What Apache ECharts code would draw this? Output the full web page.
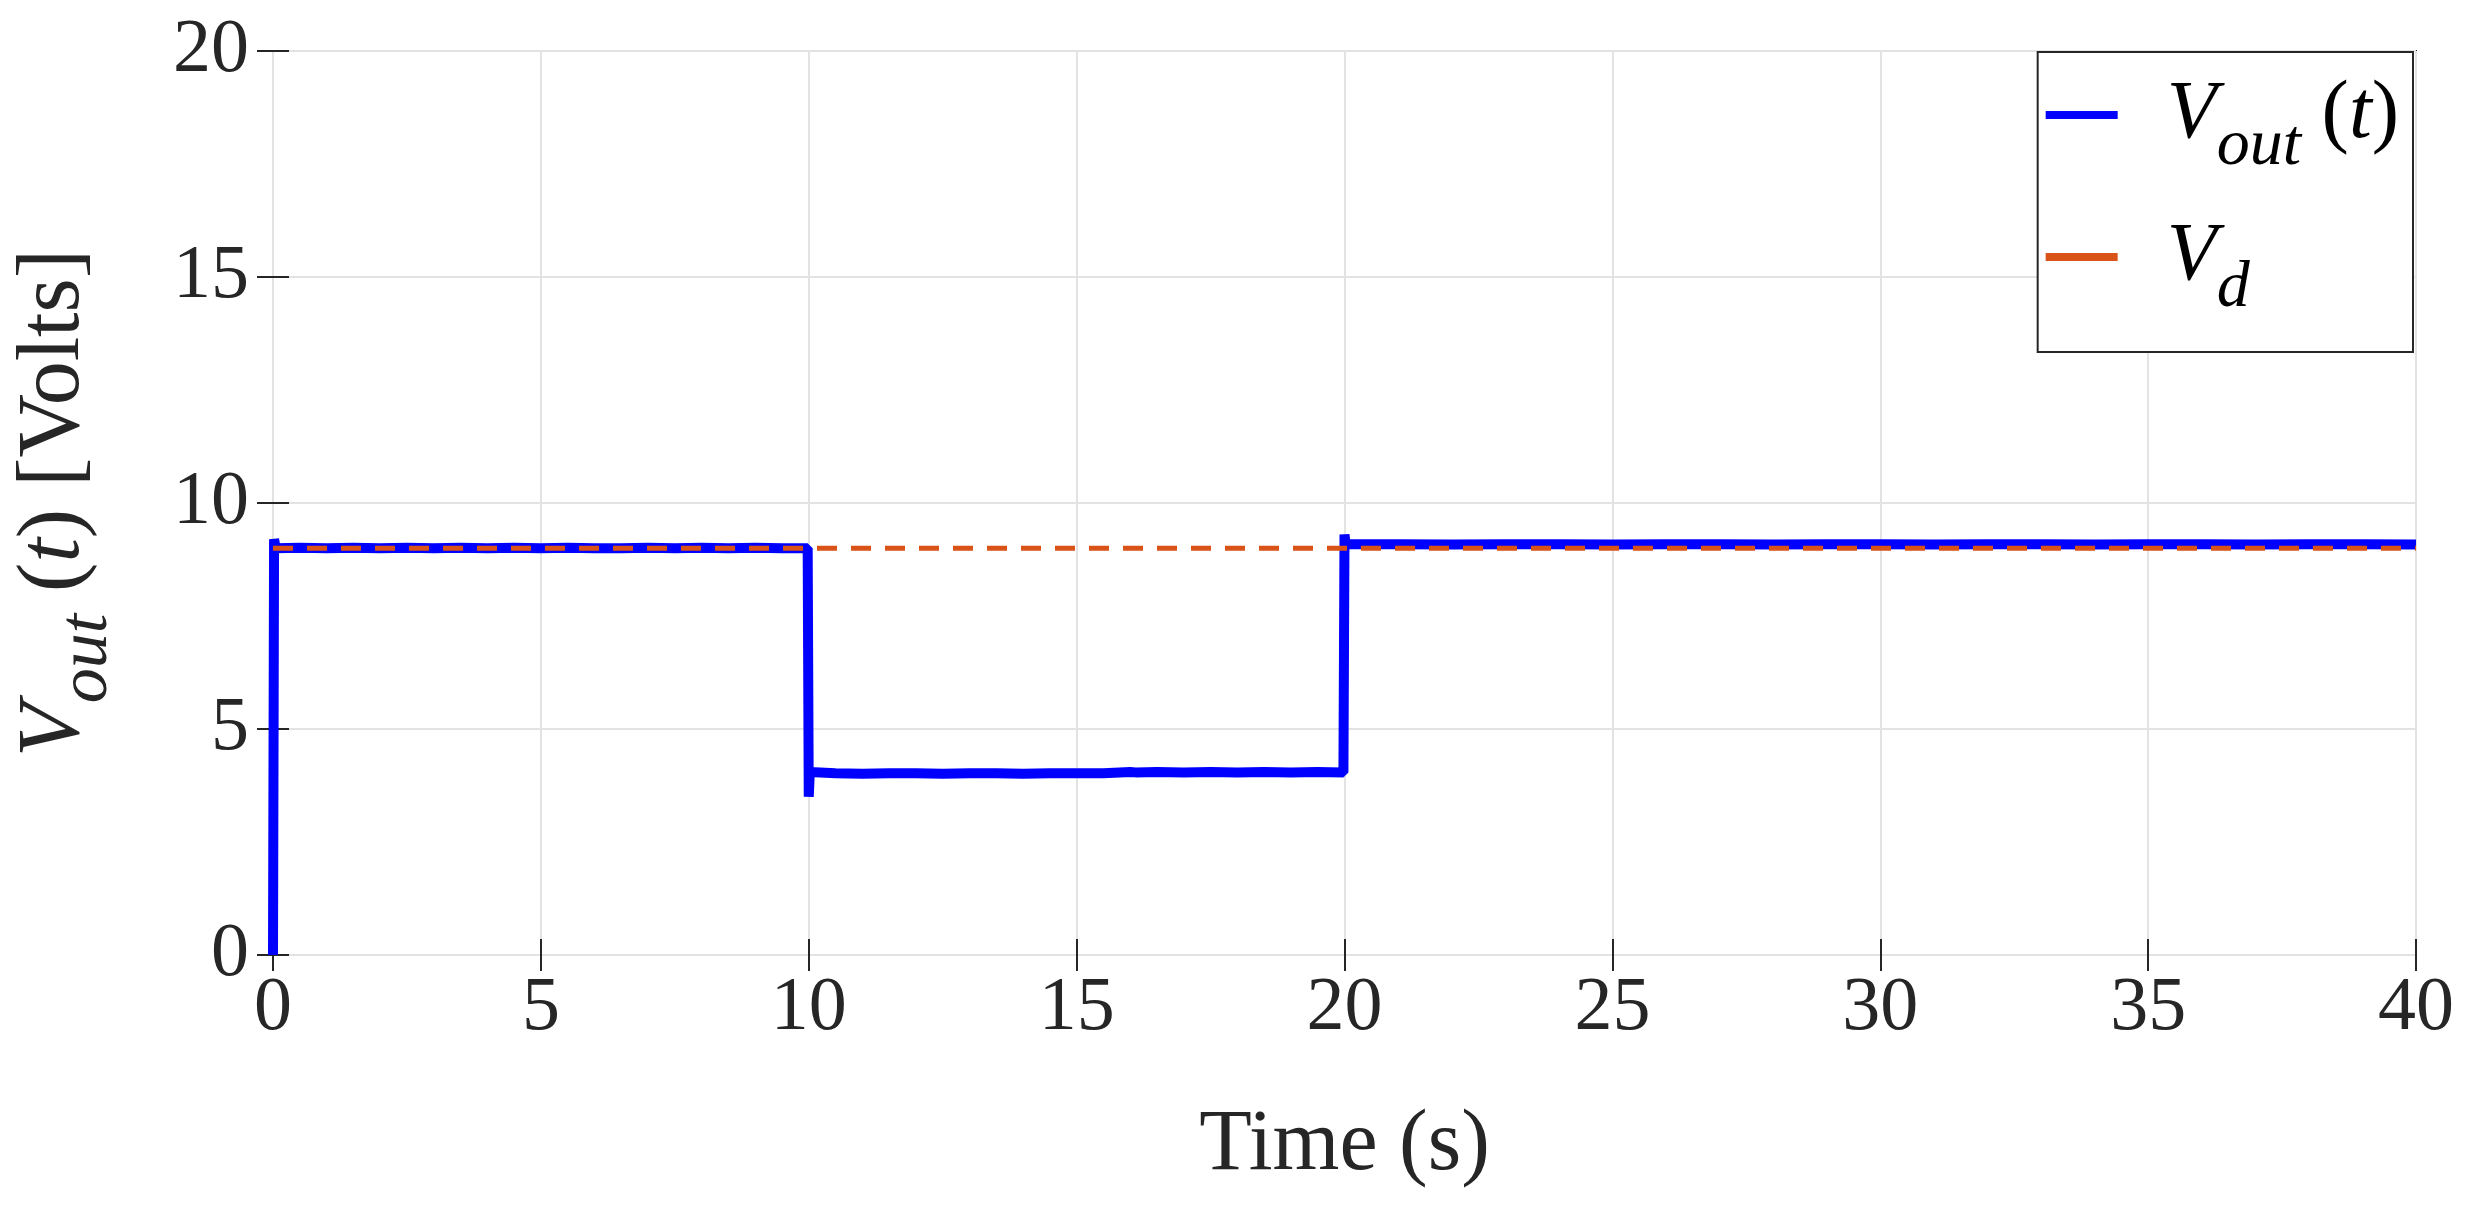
<!DOCTYPE html>
<html><head><meta charset="utf-8">
<script src="https://cdn.jsdelivr.net/npm/echarts@6/dist/echarts.min.js"></script>
<style>html,body{margin:0;padding:0;background:#fff}#c{width:2479px;height:1210px}</style>
</head><body><div id="c"></div>
<script>
const timeVout = [0,0.02,0.05,0.5,1,1.5,2,2.5,3,3.5,4,4.5,5,5.5,6,6.5,7,7.5,8,8.5,9,9.5,9.98,10.0,10.02,10.05,10.5,11,11.5,12,12.5,13,13.5,14,14.5,15,15.5,16,16.1,16.5,17,17.5,18,18.5,19,19.5,19.98,20.0,20.02,20.1,21,22,23,24,25,26,27,28,29,30,31,32,33,34,35,36,37,38,39,40];
const vout = [0,9.2,9.0,9.01,9.0,9.01,9.0,9.01,9.0,9.01,9.0,9.01,9.0,9.01,9.0,9.0,9.01,9.0,9.01,9.0,9.01,9.0,9.0,3.5,4.05,4.02,4.02,4.01,4.02,4.02,4.01,4.02,4.02,4.01,4.02,4.02,4.02,4.05,4.04,4.05,4.04,4.05,4.04,4.05,4.04,4.05,4.04,9.3,9.1,9.09,9.09,9.08,9.09,9.09,9.08,9.09,9.09,9.08,9.09,9.09,9.08,9.09,9.09,9.08,9.09,9.09,9.08,9.09,9.09,9.08];
const timeVd = [0,40];
const vd = [9,9];
const xTicks = [0,5,10,15,20,25,30,35,40];
const yTicks = [0,5,10,15,20];

const chart = echarts.init(document.getElementById('c'));
const serif = 'Liberation Serif';
const tickCfg = {show:true,inside:true,length:16,lineStyle:{color:'#262626',width:2}};
chart.setOption({
  animation:false,
  grid:{left:273,right:63,top:51,bottom:255,show:true,borderColor:'#262626',borderWidth:2,backgroundColor:'#fff'},
  legend:{
    right:66,top:52,orient:'vertical',itemWidth:72,itemHeight:8,itemGap:36,
    padding:[22,14,30,8],borderColor:'#262626',borderWidth:2,backgroundColor:'#fff',
    data:[{name:'Vout',icon:'rect'},{name:'Vd',icon:'rect'}],
    formatter:function(n){return n==='Vout'?'{v|V}{s|out}{n| (}{i|t}{n|)}':'{v|V}{s|d}';},
    textStyle:{rich:{
      v:{fontFamily:serif,fontStyle:'italic',fontSize:82,color:'#000',padding:[0,0,0,44]},
      s:{fontFamily:serif,fontStyle:'italic',fontSize:66,color:'#000',verticalAlign:'top',padding:[64,0,0,0]},
      n:{fontFamily:serif,fontSize:82,color:'#000'},
      i:{fontFamily:serif,fontStyle:'italic',fontSize:82,color:'#000'}
    }}
  },
  xAxis:[{type:'value',min:0,max:40,interval:5,
    name:'Time (s)',nameLocation:'middle',nameGap:148,
    nameTextStyle:{fontFamily:serif,fontSize:86,color:'#262626'},
    axisLine:{show:false},axisTick:tickCfg,
    axisLabel:{fontFamily:serif,fontSize:76,color:'#262626',margin:16,
      formatter:v=>xTicks.includes(v)?String(v):''},
    splitLine:{show:true,lineStyle:{color:'#e3e3e3',width:2}}
  },{type:'value',position:'top',min:0,max:40,interval:5,axisLine:{show:false},axisTick:tickCfg,axisLabel:{show:false},splitLine:{show:false}}],
  yAxis:[{type:'value',min:0,max:20,interval:5,
    name:'{v|V}{s|out}{n| (}{i|t}{n|) [Volts]}',nameLocation:'middle',nameGap:150,nameRotate:90,
    nameTextStyle:{rich:{
      v:{fontFamily:serif,fontStyle:'italic',fontSize:88,color:'#262626'},
      s:{fontFamily:serif,fontStyle:'italic',fontSize:70,color:'#262626',verticalAlign:'top',padding:[66,0,0,0]},
      n:{fontFamily:serif,fontSize:88,color:'#262626'},
      i:{fontFamily:serif,fontStyle:'italic',fontSize:88,color:'#262626'}
    }},
    axisLine:{show:false},axisTick:tickCfg,
    axisLabel:{fontFamily:serif,fontSize:76,color:'#262626',margin:24,
      formatter:v=>yTicks.includes(v)?String(v):''},
    splitLine:{show:true,lineStyle:{color:'#e3e3e3',width:2}}
  },{type:'value',position:'right',min:0,max:20,interval:5,axisLine:{show:false},axisTick:tickCfg,axisLabel:{show:false},splitLine:{show:false}}],
  series:[
    {name:'Vout',type:'line',data:timeVout.map((t,i)=>[t,vout[i]]),symbol:'none',
      lineStyle:{color:'#0000ff',width:10},itemStyle:{color:'#0000ff'},z:3},
    {name:'Vd',type:'line',data:timeVd.map((t,i)=>[t,vd[i]]),symbol:'none',
      lineStyle:{color:'#D95319',width:5,type:[20,14]},itemStyle:{color:'#D95319'},z:4}
  ]
});
</script></body></html>
